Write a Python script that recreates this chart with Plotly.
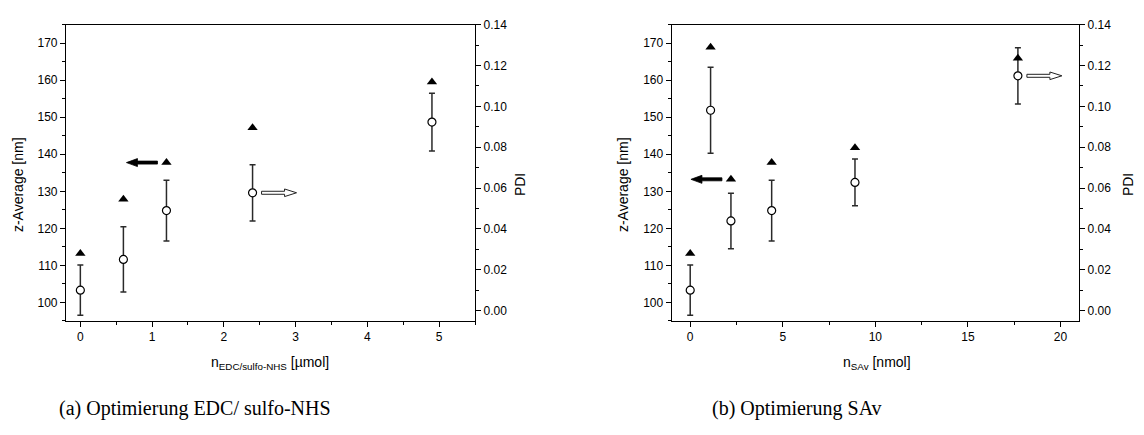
import plotly.graph_objects as go

# EDC / sulfo-NHS series
edc_n = [0, 0.6, 1.2, 2.4, 4.9]
edc_z = [103.3, 111.6, 124.8, 129.6, 148.7]
edc_z_err = [6.8, 8.8, 8.2, 7.6, 7.8]
edc_pdi = [0.028, 0.0545, 0.0725, 0.0895, 0.112]

# SAv series
sav_n = [0, 1.1, 2.2, 4.4, 8.9, 17.7]
sav_z = [103.3, 151.9, 122.0, 124.8, 132.4, 161.2]
sav_z_err = [6.8, 11.6, 7.5, 8.2, 6.3, 7.6]
sav_pdi = [0.028, 0.129, 0.0643, 0.0725, 0.0797, 0.1236]

z_ticks = [100, 110, 120, 130, 140, 150, 160, 170]
pdi_ticks = [0.00, 0.02, 0.04, 0.06, 0.08, 0.10, 0.12, 0.14]

captions = ["(a) Optimierung EDC/ sulfo-NHS", "(b) Optimierung SAv"]

W, H = 1144, 435
SANS = "Liberation Sans, Arial, sans-serif"
SERIF = "Liberation Serif, Times New Roman, serif"


def px(x):
    return x / W


def py(y):
    return 1 - y / H


panels = [
    dict(n=edc_n, z=edc_z, err=edc_z_err, pdi=edc_pdi,
         dom=(66, 475), xr=[-0.2, 5.5], dt=1, mdt=0.5,
         xtitle="n<sub>EDC/sulfo-NHS</sub> [µmol]",
         arrow_l=2, arrow_r=3, ytl=18, ytr=520, xtc=270, cap=195),
    dict(n=sav_n, z=sav_z, err=sav_z_err, pdi=sav_pdi,
         dom=(671.7, 1079), xr=[-1, 21], dt=5, mdt=2.5,
         xtitle="n<sub>SAv</sub> [nmol]",
         arrow_l=2, arrow_r=5, ytl=623, ytr=1128, xtc=877, cap=796.5),
]

fig = go.Figure()
annotations = []
shapes = []

plot_top, plot_bot = 18, 319
ydom = [py(plot_bot), py(plot_top)]

for i, p in enumerate(panels):
    xa = "x" if i == 0 else "x2"
    ya_z = "y" if i == 0 else "y3"
    ya_p = "y2" if i == 0 else "y4"

    fig.add_trace(go.Scatter(
        x=p["n"], y=p["pdi"], mode="markers", xaxis=xa, yaxis=ya_p,
        marker=dict(symbol="triangle-up", size=9, color="black"),
        showlegend=False,
    ))
    fig.add_trace(go.Scatter(
        x=p["n"], y=p["z"], mode="markers", xaxis=xa, yaxis=ya_z,
        marker=dict(symbol="circle", size=8, color="white",
                    line=dict(color="black", width=1.2)),
        error_y=dict(type="data", array=p["err"], visible=True,
                     color="#2a2a2a", thickness=1.5, width=3),
        showlegend=False,
    ))

    sfx = "" if i == 0 else "2"
    x_dom = [px(p["dom"][0]), px(p["dom"][1])]
    axis_common = dict(showline=True, linecolor="black", linewidth=1.2,
                       ticks="outside", ticklen=5, tickwidth=1.2,
                       tickcolor="black", showgrid=False, zeroline=False,
                       tickfont=dict(family=SANS, size=12, color="black"))
    fig.update_layout(**{
        "xaxis" + sfx: dict(domain=x_dom, range=p["xr"], dtick=p["dt"],
                            tick0=0, mirror=True,
                            anchor=ya_z,
                            minor=dict(dtick=p["mdt"], tick0=0,
                                       ticks="outside", ticklen=3,
                                       tickwidth=1, tickcolor="black"),
                            **axis_common),
    })
    zname = "yaxis" if i == 0 else "yaxis3"
    pname = "yaxis2" if i == 0 else "yaxis4"
    fig.update_layout(**{
        zname: dict(domain=ydom, range=[95, 175], tickvals=z_ticks,
                    anchor=xa, side="left",
                    minor=dict(dtick=5, tick0=0, ticks="outside",
                               ticklen=3, tickwidth=1, tickcolor="black"),
                    **axis_common),
        pname: dict(range=[-0.005, 0.14], tickvals=pdi_ticks,
                    tickformat=".2f", anchor=xa, side="right",
                    overlaying=ya_z,
                    minor=dict(dtick=0.01, tick0=0, ticks="outside",
                               ticklen=3, tickwidth=1, tickcolor="black"),
                    **axis_common),
    })

    # axis titles and panel caption
    annotations += [
        dict(text="z-Average [nm]", x=px(p["ytl"]), y=py(181), xref="paper",
             yref="paper", textangle=-90, showarrow=False,
             xanchor="center", yanchor="middle",
             font=dict(family=SANS, size=14, color="black")),
        dict(text="PDI", x=px(p["ytr"]), y=py(181), xref="paper",
             yref="paper", textangle=-90, showarrow=False,
             xanchor="center", yanchor="middle",
             font=dict(family=SANS, size=14, color="black")),
        dict(text=p["xtitle"], x=px(p["xtc"]), y=py(362), xref="paper",
             yref="paper", showarrow=False, xanchor="center",
             yanchor="middle",
             font=dict(family=SANS, size=14, color="black")),
        dict(text=captions[i], x=px(p["cap"]), y=py(408), xref="paper",
             yref="paper", showarrow=False, xanchor="center",
             yanchor="middle",
             font=dict(family=SERIF, size=20, color="black")),
    ]

    # filled arrow pointing left from a PDI marker toward the z-Average axis
    k = p["arrow_l"]
    shapes.append(dict(
        type="path", xref=xa, yref=ya_p,
        xsizemode="pixel", ysizemode="pixel",
        xanchor=p["n"][k], yanchor=p["pdi"][k],
        path="M-9,-1.5 L-29,-1.5 L-29,-4 L-40,0 L-29,4 L-29,1.5 L-9,1.5 Z",
        fillcolor="black", line=dict(color="black", width=0.8),
    ))
    # open arrow pointing right from a z-Average marker toward the PDI axis
    k = p["arrow_r"]
    shapes.append(dict(
        type="path", xref=xa, yref=ya_z,
        xsizemode="pixel", ysizemode="pixel",
        xanchor=p["n"][k], yanchor=p["z"][k],
        path="M9,-1.5 L32,-1.5 L32,-3.8 L44,0 L32,3.8 L32,1.5 L9,1.5 Z",
        fillcolor="white", line=dict(color="#222222", width=1),
    ))

fig.update_layout(
    width=W, height=H,
    margin=dict(l=0, r=0, t=0, b=0),
    paper_bgcolor="white", plot_bgcolor="white",
    annotations=annotations, shapes=shapes,
)

fig.write_html("out.html")
